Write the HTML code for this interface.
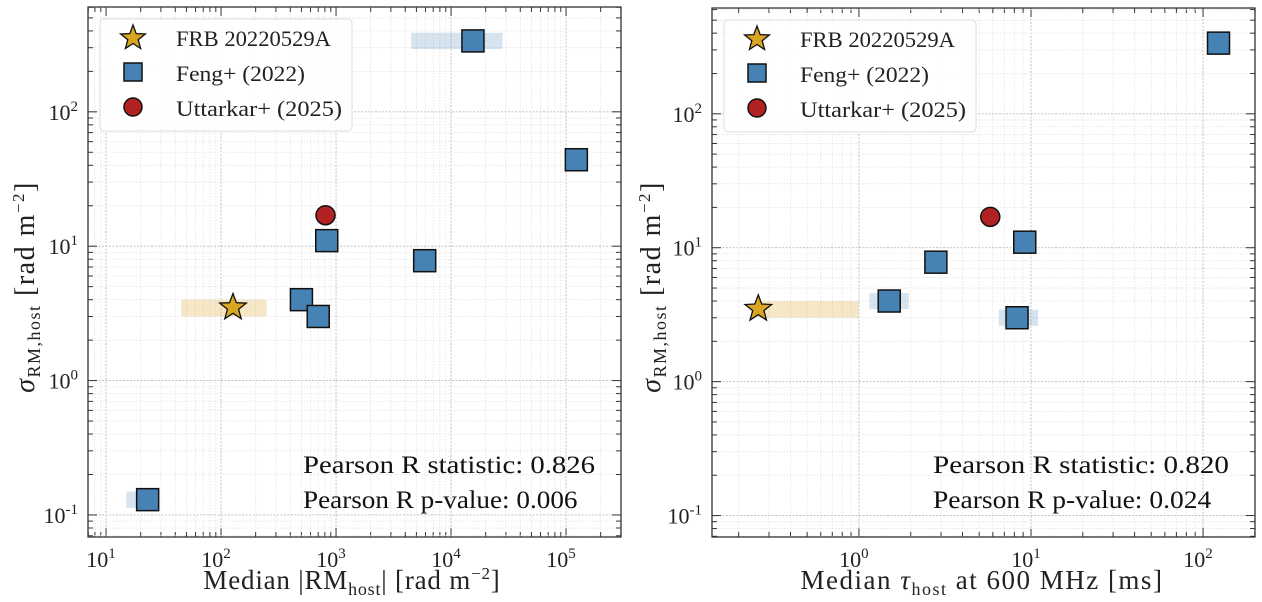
<!DOCTYPE html>
<html><head><meta charset="utf-8">
<style>
body{margin:0;background:#fff;}
svg{display:block;font-family:"Liberation Serif","DejaVu Serif",serif;}
</style></head>
<body>
<svg id="fig" width="1262" height="602" viewBox="0 0 1262 602" xmlns="http://www.w3.org/2000/svg"></svg>
<script>
// ---- data (left panel: RM) ----
const fengRM = [15500, 123000, 830, 5900, 500, 700, 23];
const fengSigmaL = [337, 44, 11, 7.8, 4.0, 3.0, 0.13];
const fengRMlo = [4500, null, null, null, 420, 600, 15];
const fengRMhi = [28000, null, null, null, 600, 800, 26];
const uttRM = [810];
const uttSigmaL = [17];
const frbRM = [127];
const frbRMlo = [45];
const frbRMhi = [250];
const frbSigma = [3.5];
const frbSigmaLo = [3.0];
const frbSigmaHi = [4.0];
// ---- data (right panel: tau) ----
const fengTau = [123, 9.2, 2.8, 1.5, 8.3];
const fengSigmaR = [337, 11, 7.8, 4.0, 3.0];
const fengTauLo = [null, null, null, 1.15, 6.5];
const fengTauHi = [null, null, null, 1.95, 11];
const uttTau = [5.8];
const uttSigmaR = [17];
const frbTau = [0.26];
const frbTauLo = [0.26];
const frbTauHi = [1.0];
const yTicks = [-1, 0, 1, 2];
const xTicksL = [1, 2, 3, 4, 5];
const xTicksR = [0, 1, 2];
const statsL = ["Pearson R statistic: 0.826", "Pearson R p-value: 0.006"];
const statsR = ["Pearson R statistic: 0.820", "Pearson R p-value: 0.024"];

const NS = "http://www.w3.org/2000/svg";
const fig = document.getElementById('fig');
function mk(tag, attrs, parent){const e=document.createElementNS(NS,tag);for(const k in attrs)e.setAttribute(k,attrs[k]);(parent||fig).appendChild(e);return e;}

function panel(cfg){
  const {x0,x1,y0,y1,lx0,lx1,ly0,ly1,name}=cfg;
  const g=mk('g',{});
  
  
  const X=v=>x0+(Math.log10(v)-lx0)/(lx1-lx0)*(x1-x0);
  const Y=v=>y1-(Math.log10(v)-ly0)/(ly1-ly0)*(y1-y0);
  for(let d=Math.floor(lx0);d<=Math.ceil(lx1);d++){
    for(let m=1;m<10;m++){
      const v=m*Math.pow(10,d),lv=Math.log10(v);
      if(lv<lx0||lv>lx1)continue;
      const px=X(v);
      mk('line',{x1:px,x2:px,y1:y0,y2:y1,stroke:m==1?'#bbb':'#e2e2e2','stroke-width':m==1?0.9:0.8,'stroke-dasharray':m==1?'2,1.5':'1.5,1.5'},g);
      const L=m==1?9:5;
      mk('line',{x1:px,x2:px,y1:y1,y2:y1-L,stroke:'#333','stroke-width':1},g);
      mk('line',{x1:px,x2:px,y1:y0,y2:y0+L,stroke:'#333','stroke-width':1},g);
    }
  }
  for(let d=Math.floor(ly0);d<=Math.ceil(ly1);d++){
    for(let m=1;m<10;m++){
      const v=m*Math.pow(10,d),lv=Math.log10(v);
      if(lv<ly0||lv>ly1)continue;
      const py=Y(v);
      mk('line',{x1:x0,x2:x1,y1:py,y2:py,stroke:m==1?'#bbb':'#e2e2e2','stroke-width':m==1?0.9:0.8,'stroke-dasharray':m==1?'2,1.5':'1.5,1.5'},g);
      const L=m==1?9:5;
      mk('line',{x1:x0,x2:x0+L,y1:py,y2:py,stroke:'#333','stroke-width':1},g);
      mk('line',{x1:x1,x2:x1-L,y1:py,y2:py,stroke:'#333','stroke-width':1},g);
    }
  }
  mk('rect',{x:x0,y:y0,width:x1-x0,height:y1-y0,fill:'none',stroke:'#333','stroke-width':1.3},g);
  cfg.xt.forEach(e=>{
    const t=mk('text',{x:X(Math.pow(10,e))-5,y:y1+30,'font-size':22,'text-anchor':'middle',fill:'#222'},g);
    t.textContent='10';
    
    
    const s=mk('tspan',{dy:-9,'font-size':15},t);s.textContent=String(e);
  });
  yTicks.forEach(e=>{
    const t=mk('text',{x:x0-10,y:Y(Math.pow(10,e))+8,'font-size':22,'text-anchor':'end',fill:'#222'},g);
    
    
    t.textContent='10';
    const s=mk('tspan',{dy:-9,'font-size':15},t);s.textContent=String(e);
  });
  function band(xlo,xhi,ylo,yhi,col){mk('rect',{x:X(xlo),y:Y(yhi),width:X(xhi)-X(xlo),height:Y(ylo)-Y(yhi),fill:col},g);}
  cfg.fx.forEach((v,i)=>{ if(cfg.flo[i]!=null) band(cfg.flo[i],cfg.fhi[i],cfg.fy[i]*0.87,cfg.fy[i]*1.15,'rgba(70,130,180,0.22)'); });
  band(cfg.slo[0],cfg.shi[0],frbSigmaLo[0],frbSigmaHi[0],'rgba(218,165,32,0.25)');
  cfg.fx.forEach((v,i)=>{
    const r=mk('rect',{x:X(v)-11,y:Y(cfg.fy[i])-11,width:22,height:22,fill:'#4682b4',stroke:'#111','stroke-width':1.5},g);
    
    
  });
  cfg.ux.forEach((v,i)=>{
    const c=mk('circle',{cx:X(v),cy:Y(cfg.uy[i]),r:9.5,fill:'#b22222',stroke:'#111','stroke-width':1.5},g);
    
    
  });
  const st=star(X(cfg.sx[0]),Y(frbSigma[0]),14,g);
  
  
  const lg=mk('g',{},g);
  
  
  const lx=x0+12,ly=y0+12;
  mk('rect',{x:lx,y:ly,width:252,height:112,rx:4,fill:'rgba(255,255,255,0.9)',stroke:'#ddd'},lg);
  star(lx+33,ly+19,13,lg);
  mk('rect',{x:lx+24,y:ly+44,width:18,height:18,fill:'#4682b4',stroke:'#111','stroke-width':1.5},lg);
  mk('circle',{cx:lx+33,cy:ly+88,r:9,fill:'#b22222',stroke:'#111','stroke-width':1.5},lg);
  const legW=[155,129,166];
  ['FRB 20220529A','Feng+ (2022)','Uttarkar+ (2025)'].forEach((s,i)=>{
    const t=mk('text',{x:lx+76,y:ly+27+i*35,'font-size':22,fill:'#222',textLength:legW[i],lengthAdjust:'spacingAndGlyphs'},lg);t.textContent=s;
    
    
  });
  const stW=[cfg.statw, cfg.statw*0.94];
  cfg.stats.forEach((s,i)=>{
    const t=mk('text',{x:cfg.statx,y:y1-64+i*35,'font-size':25,fill:'#111',textLength:stW[i],lengthAdjust:'spacingAndGlyphs'},g);t.textContent=s;
    
    
  });
}
function star(cx,cy,R,p){
  let pts=[];for(let i=0;i<10;i++){const r=i%2?R*0.42:R;const a=-Math.PI/2+i*Math.PI/5;pts.push((cx+r*Math.cos(a)).toFixed(1)+','+(cy+r*Math.sin(a)).toFixed(1));}
  return mk('polygon',{points:pts.join(' '),fill:'#daa520',stroke:'#111','stroke-width':1.3},p);
}
panel({name:'left-panel',x0:88,x1:621,y0:7,y1:537,lx0:0.843,lx1:5.478,ly0:-1.164,ly1:2.78,xt:xTicksL,
  fx:fengRM,fy:fengSigmaL,flo:fengRMlo,fhi:fengRMhi,ux:uttRM,uy:uttSigmaL,sx:frbRM,slo:frbRMlo,shi:frbRMhi,stats:statsL,statx:303,statw:292});
panel({name:'right-panel',x0:712,x1:1255,y0:8,y1:537,lx0:-0.854,lx1:2.302,ly0:-1.16,ly1:2.79,xt:xTicksR,
  fx:fengTau,fy:fengSigmaR,flo:fengTauLo,fhi:fengTauHi,ux:uttTau,uy:uttSigmaR,sx:frbTau,slo:frbTauLo,shi:frbTauHi,stats:statsR,statx:933,statw:296});
</script>
<div style="position:absolute;left:0;top:0;width:1262px;height:602px;pointer-events:none;">
<svg width="1262" height="602" style="position:absolute;left:0;top:0">
<text x="352" y="589" font-size="27" letter-spacing="0.8" text-anchor="middle" fill="#222" font-family="Liberation Serif, serif">Median |RM<tspan font-size="18" dy="6">host</tspan><tspan dy="-6">| [rad m</tspan><tspan font-size="17" dy="-10">−2</tspan><tspan dy="10">]</tspan></text>
<text x="982" y="589" font-size="27" letter-spacing="1.5" text-anchor="middle" fill="#222" font-family="Liberation Serif, serif">Median <tspan font-style="italic">τ</tspan><tspan font-size="18" dy="6">host</tspan><tspan dy="-6"> at 600 MHz [ms]</tspan></text>
<text transform="translate(34,287) rotate(-90)" font-size="28" letter-spacing="1.5" text-anchor="middle" fill="#222" font-family="Liberation Serif, serif"><tspan font-style="italic">σ</tspan><tspan font-size="18" dy="6">RM,host</tspan><tspan dy="-6"> [rad m</tspan><tspan font-size="17" dy="-10">−2</tspan><tspan dy="10">]</tspan></text>
<text transform="translate(660,287) rotate(-90)" font-size="28" letter-spacing="1.5" text-anchor="middle" fill="#222" font-family="Liberation Serif, serif"><tspan font-style="italic">σ</tspan><tspan font-size="18" dy="6">RM,host</tspan><tspan dy="-6"> [rad m</tspan><tspan font-size="17" dy="-10">−2</tspan><tspan dy="10">]</tspan></text>
</svg></div>
</body></html>
